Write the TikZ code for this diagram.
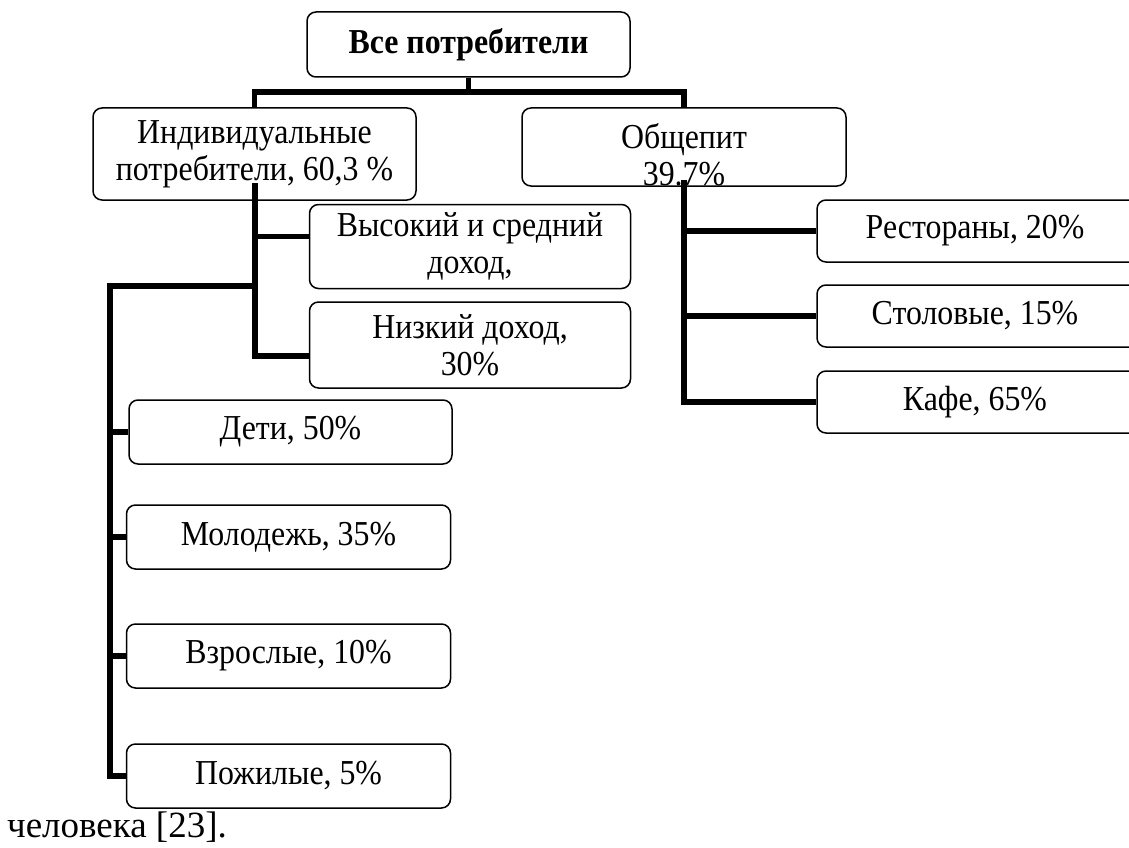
\documentclass[tikz,border=0pt]{standalone}
\usepackage{fontspec}
\setmainfont{Liberation Serif}
\newfontfamily\boxfont[FakeStretch=0.91]{Liberation Serif}
\begin{document}
\begin{tikzpicture}[x=1pt,y=-1pt,
  box/.style={draw,line width=1.5pt,rounded corners=9pt,inner sep=0pt,align=center,font=\boxfont\fontsize{35}{37}\selectfont},
  txt/.style={inner sep=0pt,align=center,font=\boxfont\fontsize{35}{37}\selectfont},
  conn/.style={line width=5.5pt,line join=miter}]
\useasboundingbox (0,0) rectangle (1129,848);
% boxes
\node[box,minimum width=323pt,minimum height=65pt,font=\boxfont\fontsize{35}{37}\selectfont\bfseries] (top) at (468.5,44.5) {Все потребители};
\node[box,minimum width=323pt,minimum height=92pt] (ind) at (254.5,154) {Индивидуальные\\потребители, 60,3 \%};
\node[box,minimum width=324pt,minimum height=78pt] (ob) at (684,147) {};
\node[txt] (obt) at (684,155) {Общепит\\39.7\%};
\node[box,minimum width=321pt,minimum height=84pt] (vys) at (470,246.5) {Высокий и средний\\доход,};
\node[box,minimum width=321pt,minimum height=86pt] (niz) at (470,345) {Низкий доход,\\30\%};
\node[box,minimum width=323pt,minimum height=64pt] (deti) at (290.5,432) {Дети, 50\%};
\node[box,minimum width=324pt,minimum height=64pt] (mol) at (288.5,537) {Молодежь, 35\%};
\node[box,minimum width=324pt,minimum height=64pt] (vzr) at (288.5,656) {Взрослые, 10\%};
\node[box,minimum width=324pt,minimum height=64pt] (pozh) at (288.5,776) {Пожилые, 5\%};
\node[box,minimum width=330pt,minimum height=62pt] (rest) at (982,231) {};
\node[txt] (restt) at (975,231) {Рестораны, 20\%};
\node[box,minimum width=330pt,minimum height=62pt] (stol) at (982,316) {};
\node[txt] (stolt) at (975,316) {Столовые, 15\%};
\node[box,minimum width=330pt,minimum height=62pt] (kafe) at (982,402) {};
\node[txt] (kafet) at (975,402) {Кафе, 65\%};
\node[inner sep=0pt,anchor=base west,font=\fontsize{37}{40}\selectfont] (cap) at (7,837) {человека [23].};
% connectors
\coordinate (j) at (468.5,92);
\draw[conn] (top.south) -- (j);
\draw[conn] (ind.north) |- (j) -| (ob.north);
\coordinate (ia) at (255,183);
\draw[conn] (ia) |- ([yshift=-11pt]niz.west);
\draw[conn] (ia |- vys.west) ++(0,-10) -- ([yshift=10pt]vys.west);
\coordinate (lbr) at (255,286);
\coordinate (lb) at (110,286);
\coordinate (le) at (110,776);
\draw[conn] (lbr) -- (lb) -- (le) -- (pozh.west);
\draw[conn] (lb |- deti.west) -- (deti.west);
\draw[conn] (lb |- mol.west) -- (mol.west);
\draw[conn] (lb |- vzr.west) -- (vzr.west);
\coordinate (oa) at (684,180);
\draw[conn] (oa) |- (kafe.west);
\draw[conn] (oa |- rest.west) -- (rest.west);
\draw[conn] (oa |- stol.west) -- (stol.west);
\end{tikzpicture}
\end{document}
